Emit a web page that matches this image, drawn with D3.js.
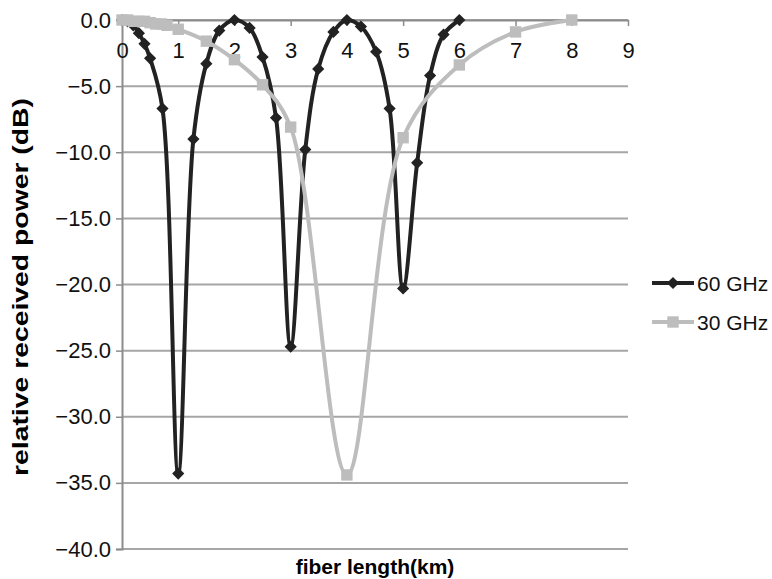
<!DOCTYPE html>
<html>
<head>
<meta charset="utf-8">
<script src="https://cdn.jsdelivr.net/npm/d3@7"></script>
<style>
  body { margin: 0; background: #fff; }
  svg { font-family: "Liberation Sans", Arial, sans-serif; }
</style>
</head>
<body>
<svg id="chart" width="772" height="579"></svg>
<script>
// 60 GHz series (km, dB)
let km60 = [0, 0.1, 0.2, 0.3, 0.4, 0.5, 0.72, 1.0, 1.27, 1.5, 1.73, 2.0, 2.27, 2.5, 2.74, 3.0,
            3.26, 3.49, 3.76, 4.0, 4.25, 4.52, 4.76, 5.0, 5.25, 5.48, 5.72, 6.0]
let db60 = [0, -0.1, -0.4, -1.0, -1.8, -2.9, -6.7, -34.3, -9.0, -3.3, -0.8, 0, -0.6, -2.8, -7.4, -24.7,
            -9.8, -3.7, -0.9, 0, -0.5, -2.4, -6.7, -20.3, -10.8, -4.2, -1.1, 0]

// 30 GHz series (km, dB)
let km30 = [0, 0.1, 0.2, 0.3, 0.4, 0.5, 0.6, 0.7, 0.8, 1.0, 1.5, 2.0, 2.5, 3.0, 4.0, 5.0, 6.0, 7.0, 8.0]
let db30 = [0, 0, -0.1, -0.1, -0.1, -0.2, -0.3, -0.3, -0.4, -0.7, -1.6, -3.0, -4.9, -8.1, -34.4, -8.9, -3.4, -0.9, 0]

let xTicks = [0, 1, 2, 3, 4, 5, 6, 7, 8, 9]
let yTicks = [0, -5, -10, -15, -20, -25, -30, -35, -40]
let seriesNames = ['60 GHz', '30 GHz']

let svg = d3.select("#chart")
let plotLeft = 122, plotRight = 628, plotTop = 20, plotBottom = 549

let x = d3.scaleLinear().domain([0, 9]).range([plotLeft, plotRight])
let y = d3.scaleLinear().domain([-40, 0]).range([plotBottom, plotTop])

let fmtY = function (d) { return d === 0 ? "0.0" : "\u2212" + Math.abs(d).toFixed(1) }

// gridlines
svg.append("g")
    .selectAll("line")
    .data(yTicks)
    .enter()
    .append("line")
    .attr("x1", plotLeft)
    .attr("x2", plotRight)
    .attr("y1", function (d) { return y(d) })
    .attr("y2", function (d) { return y(d) })
    .style("stroke", "#a6a6a6")
    .style("stroke-width", 2)

// y axis
let yAxis = svg.append("g")
    .attr("transform", "translate(" + plotLeft + ",0)")
    .call(d3.axisLeft(y).tickValues(yTicks).tickFormat(fmtY).tickSize(6).tickPadding(5))
yAxis.select(".domain").style("stroke", "#8c8c8c").style("stroke-width", 2)
yAxis.selectAll(".tick line").style("stroke", "#8c8c8c").style("stroke-width", 1.5)
yAxis.selectAll("text").style("font-size", "22px").style("fill", "#111")

// x axis at y = 0 (top), ticks point down
let xAxis = svg.append("g")
    .attr("transform", "translate(0," + plotTop + ")")
    .call(d3.axisBottom(x).tickValues(xTicks).tickFormat(d3.format("d")).tickSize(6).tickSizeOuter(0).tickPadding(16))
xAxis.select(".domain").style("stroke", "#8c8c8c").style("stroke-width", 2)
xAxis.selectAll(".tick line").style("stroke", "#8c8c8c").style("stroke-width", 1.5)
xAxis.selectAll("text").style("font-size", "22px").style("fill", "#111")

// axis titles
svg.append("text")
    .attr("x", 375)
    .attr("y", 574)
    .style("text-anchor", "middle")
    .style("font-size", "21px")
    .style("font-weight", "bold")
    .text("fiber length(km)")

svg.append("text")
    .attr("transform", "translate(28,287) rotate(-90)")
    .attr("textLength", 378)
    .attr("lengthAdjust", "spacingAndGlyphs")
    .style("text-anchor", "middle")
    .style("font-size", "22px")
    .style("font-weight", "bold")
    .text("relative received power (dB)")

let line = d3.line()
    .x(function (d) { return x(d[0]) })
    .y(function (d) { return y(d[1]) })
    .curve(d3.curveCatmullRom.alpha(0.5))

let data60 = km60.map(function (k, i) { return [k, db60[i]] })
let data30 = km30.map(function (k, i) { return [k, db30[i]] })

let diamond = d3.symbol().type(d3.symbolDiamond2).size(95)
let square = d3.symbol().type(d3.symbolSquare).size(130)

// 60 GHz
svg.append("path")
    .datum(data60)
    .attr("d", line)
    .style("fill", "none")
    .style("stroke", "#222")
    .style("stroke-width", 4)
svg.append("g")
    .selectAll("path")
    .data(data60)
    .enter()
    .append("path")
    .attr("transform", function (d) { return "translate(" + x(d[0]) + "," + y(d[1]) + ")" })
    .attr("d", diamond)
    .style("fill", "#222")

// 30 GHz
svg.append("path")
    .datum(data30)
    .attr("d", line)
    .style("fill", "none")
    .style("stroke", "#bdbdbd")
    .style("stroke-width", 4)
svg.append("g")
    .selectAll("path")
    .data(data30)
    .enter()
    .append("path")
    .attr("transform", function (d) { return "translate(" + x(d[0]) + "," + y(d[1]) + ")" })
    .attr("d", square)
    .style("fill", "#bdbdbd")

// legend
let legend = svg.append("g").attr("transform", "translate(652,283)")
let styles = [{ c: "#222", sym: diamond }, { c: "#bdbdbd", sym: square }]
seriesNames.forEach(function (name, i) {
    let g = legend.append("g").attr("transform", "translate(0," + (i * 39) + ")")
    g.append("line")
        .attr("x1", 0).attr("x2", 42)
        .style("stroke", styles[i].c)
        .style("stroke-width", 4)
    g.append("path")
        .attr("transform", "translate(21,0)")
        .attr("d", styles[i].sym)
        .style("fill", styles[i].c)
    g.append("text")
        .attr("x", 45)
        .attr("y", 8)
        .style("font-size", "21px")
        .style("fill", "#111")
        .text(name)
})
</script>
</body>
</html>
